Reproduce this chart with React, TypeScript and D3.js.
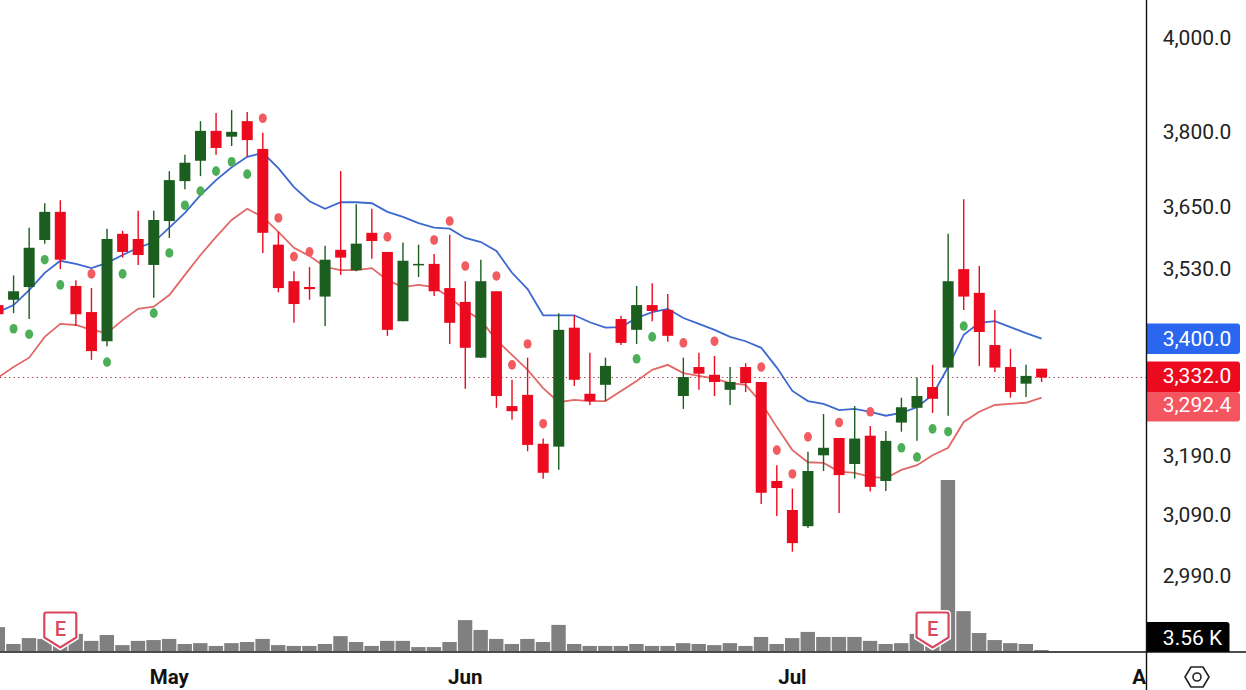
import React, { useRef, useEffect } from "react";
import * as d3 from "d3";

const opens = [3460, 3470, 3494, 3584, 3639, 3496, 3447, 3393, 3596, 3586, 3536, 3621, 3700, 3741, 3802, 3790, 3822, 3765, 3575, 3505, 3494, 3476, 3565, 3526, 3598, 3561, 3430, 3536, 3538, 3492, 3466, 3363, 3486, 3276, 3296, 3210, 3205, 3418, 3298, 3314, 3434, 3414, 3460, 3451, 3294, 3346, 3332, 3305, 3346, 3319, 3146, 3097, 3070, 3190, 3220, 3175, 3224, 3146, 3247, 3273, 3310, 3345, 3528, 3483, 3386, 3346, 3316, 3343];
const highs = [3465, 3516, 3608, 3656, 3662, 3507, 3492, 3606, 3602, 3641, 3641, 3720, 3753, 3822, 3839, 3845, 3841, 3798, 3600, 3524, 3532, 3573, 3720, 3654, 3645, 3561, 3579, 3575, 3557, 3594, 3505, 3546, 3486, 3323, 3363, 3219, 3445, 3441, 3372, 3363, 3440, 3496, 3501, 3481, 3363, 3372, 3366, 3346, 3353, 3319, 3173, 3133, 3196, 3262, 3220, 3276, 3241, 3232, 3291, 3327, 3350, 3596, 3664, 3534, 3451, 3379, 3350, 3343];
const lows = [3436, 3445, 3434, 3577, 3528, 3421, 3359, 3384, 3550, 3536, 3474, 3588, 3684, 3710, 3753, 3771, 3749, 3559, 3484, 3427, 3470, 3421, 3517, 3524, 3548, 3403, 3430, 3513, 3477, 3388, 3307, 3363, 3273, 3252, 3197, 3150, 3165, 3312, 3278, 3285, 3386, 3388, 3430, 3392, 3271, 3305, 3294, 3278, 3301, 3107, 3087, 3028, 3067, 3163, 3092, 3150, 3128, 3129, 3231, 3215, 3264, 3259, 3451, 3348, 3337, 3291, 3292, 3319];
const closes = [3443, 3486, 3569, 3639, 3546, 3443, 3375, 3586, 3561, 3555, 3623, 3702, 3737, 3802, 3767, 3800, 3783, 3598, 3492, 3462, 3490, 3546, 3550, 3577, 3582, 3414, 3544, 3538, 3486, 3427, 3381, 3505, 3294, 3267, 3208, 3160, 3414, 3323, 3285, 3348, 3390, 3460, 3449, 3403, 3328, 3334, 3319, 3319, 3317, 3126, 3134, 3042, 3163, 3203, 3156, 3219, 3136, 3215, 3274, 3294, 3289, 3505, 3476, 3410, 3345, 3301, 3330, 3327];
const upperBand = [3447, 3460, 3488, 3521, 3544, 3538, 3530, 3540, 3555, 3569, 3580, 3608, 3637, 3672, 3702, 3728, 3749, 3757, 3726, 3688, 3660, 3645, 3658, 3658, 3656, 3639, 3629, 3617, 3608, 3606, 3588, 3580, 3563, 3521, 3490, 3441, 3441, 3441, 3428, 3418, 3419, 3436, 3447, 3453, 3436, 3425, 3414, 3401, 3393, 3381, 3345, 3303, 3285, 3280, 3269, 3271, 3266, 3259, 3264, 3274, 3296, 3346, 3405, 3427, 3430, 3419, 3408, 3398];
const lowerBand = [3327, 3346, 3363, 3401, 3425, 3423, 3414, 3408, 3432, 3453, 3457, 3479, 3517, 3555, 3590, 3623, 3645, 3629, 3600, 3569, 3553, 3532, 3526, 3526, 3530, 3507, 3494, 3498, 3494, 3474, 3451, 3432, 3395, 3368, 3341, 3308, 3283, 3287, 3285, 3285, 3303, 3321, 3341, 3350, 3335, 3330, 3325, 3317, 3314, 3282, 3239, 3199, 3178, 3177, 3162, 3160, 3153, 3151, 3165, 3173, 3190, 3203, 3248, 3266, 3278, 3280, 3282, 3291];
const volumes = [85, 25, 46, 43, 21, 61, 36, 57, 21, 36, 39, 43, 25, 28, 18, 28, 32, 43, 21, 18, 18, 25, 53, 32, 18, 36, 36, 14, 14, 32, 110, 75, 43, 25, 43, 32, 93, 25, 18, 18, 18, 25, 18, 18, 28, 25, 21, 28, 18, 50, 25, 46, 68, 50, 50, 50, 36, 25, 28, 61, 21, 609, 142, 64, 39, 28, 25, 3.56];

const buyIndex = [1, 2, 3, 4, 7, 8, 10, 11, 12, 13, 14, 15, 16, 41, 42, 58, 59, 60, 61, 62];
const buyPrice = [3416, 3406, 3546, 3498, 3355, 3519, 3445, 3559, 3652, 3680, 3720, 3739, 3714, 3361, 3401, 3203, 3187, 3236, 3231, 3421];
const sellIndex = [6, 17, 18, 19, 20, 25, 28, 29, 30, 32, 33, 34, 35, 44, 46, 49, 50, 51, 52, 54, 56];
const sellPrice = [3519, 3828, 3627, 3552, 3561, 3590, 3584, 3621, 3534, 3515, 3350, 3388, 3245, 3390, 3393, 3346, 3199, 3158, 3222, 3247, 3266];

const priceTicks = [4000, 3800, 3650, 3530, 3190, 3090, 2990];
const monthLabels = ["May", "Jun", "Jul", "Aug"];
const monthIndex = [11, 30, 51, 74];
const earningsIndex = [4, 60];

const upperLast = "3,400.0";
const closeLast = "3,332.0";
const lowerLast = "3,292.4";
const volumeLast = "3.56 K";

const GREEN = "#1b5e20";
const RED = "#ec0a1f";
const BLUE_LINE = "#3c68cf";
const RED_LINE = "#e26868";
const FONT = "Roboto, sans-serif";

const App: React.FC = () => {
    const svgRef = useRef<SVGSVGElement | null>(null);

    useEffect(() => {
        if (!svgRef.current) return;
        const svg = d3.select(svgRef.current);
        svg.selectAll("*").remove();

        const width = 1246;
        const height = 690;
        const axisX = 1146.5;
        const axisY = 652;

        const x = d3.scaleLinear().domain([0, 67]).range([-2, 1041.6]);
        const y = d3.scaleLog().domain([4000, 2990]).range([37, 575]);
        const v = d3.scaleLinear().domain([0, 609]).range([651, 480]);
        const fmt = d3.format(",.1f");

        const defs = svg.append("defs");
        defs.append("clipPath").attr("id", "plot").append("rect").attr("width", axisX).attr("height", height);
        defs.append("clipPath")
            .attr("id", "side")
            .append("rect")
            .attr("x", axisX)
            .attr("width", width - axisX)
            .attr("height", height);

        const plot = svg.append("g").attr("clip-path", "url(#plot)");

        // volume
        plot.selectAll(".vol")
            .data(volumes)
            .enter()
            .append("rect")
            .attr("x", (d, i) => x(i) - 7.4)
            .attr("y", (d) => v(d))
            .attr("width", 14.4)
            .attr("height", (d) => 651 - v(d))
            .attr("fill", "#808080");

        // last price line
        plot.append("line")
            .attr("x1", 0)
            .attr("x2", axisX)
            .attr("y1", y(closes[67]))
            .attr("y2", y(closes[67]))
            .attr("stroke", "#a02a38")
            .attr("stroke-width", 1.1)
            .attr("stroke-dasharray", "1.2 3.4");

        // bands
        const line = d3
            .line<number>()
            .x((d, i) => x(i))
            .y((d) => y(d));
        plot.append("path").attr("d", line(lowerBand)).attr("fill", "none").attr("stroke", RED_LINE).attr("stroke-width", 1.8);
        plot.append("path").attr("d", line(upperBand)).attr("fill", "none").attr("stroke", BLUE_LINE).attr("stroke-width", 1.8);

        // candles
        const colour = (i: number) => (closes[i] >= opens[i] ? GREEN : RED);
        plot.selectAll(".wick")
            .data(highs)
            .enter()
            .append("line")
            .attr("x1", (d, i) => x(i))
            .attr("x2", (d, i) => x(i))
            .attr("y1", (d) => y(d))
            .attr("y2", (d, i) => y(lows[i]))
            .attr("stroke", (d, i) => colour(i))
            .attr("stroke-width", 1.4);
        plot.selectAll(".body")
            .data(opens)
            .enter()
            .append("rect")
            .attr("x", (d, i) => x(i) - 5.5)
            .attr("y", (d, i) => y(Math.max(d, closes[i])))
            .attr("width", 11)
            .attr("height", (d, i) => Math.max(1.5, Math.abs(y(d) - y(closes[i]))))
            .attr("fill", (d, i) => colour(i));

        // signal dots
        plot.selectAll(".buy")
            .data(buyIndex)
            .enter()
            .append("ellipse")
            .attr("cx", (d) => x(d))
            .attr("cy", (d, i) => y(buyPrice[i]))
            .attr("rx", 4)
            .attr("ry", 4.8)
            .attr("fill", "#4caf58");
        plot.selectAll(".sell")
            .data(sellIndex)
            .enter()
            .append("ellipse")
            .attr("cx", (d) => x(d))
            .attr("cy", (d, i) => y(sellPrice[i]))
            .attr("rx", 4)
            .attr("ry", 4.8)
            .attr("fill", "#f25c60");

        // earnings markers
        const shield = "M-14,0 H14 Q16,0 16,2 V25 L0,35 L-16,25 V2 Q-16,0 -14,0 Z";
        const marker = plot
            .selectAll(".earn")
            .data(earningsIndex)
            .enter()
            .append("g")
            .attr("transform", (d) => `translate(${x(d)},612.5)`);
        marker.append("path").attr("d", shield).attr("fill", "#fff").attr("stroke", "#fff").attr("stroke-width", 5);
        marker.append("path").attr("d", shield).attr("fill", "#fff").attr("stroke", "#d9465e").attr("stroke-width", 2.2);
        marker
            .append("text")
            .attr("y", 23.5)
            .attr("text-anchor", "middle")
            .attr("font-family", FONT)
            .attr("font-size", 20)
            .attr("font-weight", 500)
            .attr("fill", "#d9465e")
            .text("E");

        // month labels
        plot.selectAll(".month")
            .data(monthLabels)
            .enter()
            .append("text")
            .attr("x", (d, i) => x(monthIndex[i]))
            .attr("y", 683.5)
            .attr("text-anchor", "middle")
            .attr("font-family", FONT)
            .attr("font-size", 20.5)
            .attr("font-weight", 700)
            .attr("fill", "#111")
            .text((d) => d);

        // price axis
        svg.selectAll(".tick")
            .data(priceTicks)
            .enter()
            .append("text")
            .attr("x", 1197)
            .attr("y", (d) => y(d) + 7.5)
            .attr("text-anchor", "middle")
            .attr("font-family", FONT)
            .attr("font-size", 21)
            .attr("fill", "#222")
            .text((d) => fmt(d));

        // value tags
        const side = svg.append("g").attr("clip-path", "url(#side)");
        const closeY = y(closes[67]);
        const tags = [
            { label: upperLast, top: y(upperBand[67]) - 15, h: 30.5, w: 93.5, tx: 1197, ty: 22.5, fill: "#2a66f0" },
            { label: lowerLast, top: closeY + 15, h: 29, w: 93.5, tx: 1197, ty: 19.5, fill: "#f5555f" },
            { label: closeLast, top: closeY - 16, h: 31, w: 93.5, tx: 1197, ty: 21.5, fill: RED },
            { label: volumeLast, top: axisY - 30, h: 40, w: 83, tx: 1192.5, ty: 22.5, fill: "#000" },
        ];
        const tag = side.selectAll(".tag").data(tags).enter().append("g");
        tag.append("rect")
            .attr("x", axisX - 8)
            .attr("y", (d) => d.top)
            .attr("width", (d) => d.w + 8)
            .attr("height", (d) => d.h)
            .attr("rx", 3)
            .attr("fill", (d) => d.fill);
        tag.append("text")
            .attr("x", (d) => d.tx)
            .attr("y", (d) => d.top + d.ty)
            .attr("text-anchor", "middle")
            .attr("font-family", FONT)
            .attr("font-size", 21)
            .attr("fill", "#fff")
            .text((d) => d.label);
        side.append("rect").attr("x", axisX).attr("y", axisY).attr("width", 100).attr("height", 38).attr("fill", "#fff");

        // frame
        svg.append("line").attr("x1", 0).attr("x2", width).attr("y1", axisY).attr("y2", axisY).attr("stroke", "#111").attr("stroke-width", 1.4);
        svg.append("line").attr("x1", axisX).attr("x2", axisX).attr("y1", 0).attr("y2", height).attr("stroke", "#111").attr("stroke-width", 1.4);

        // settings icon
        const icon = svg.append("g").attr("transform", "translate(1197,677)").attr("fill", "none").attr("stroke", "#222").attr("stroke-width", 1.6);
        icon.append("path").attr("d", "M-12,0 L-6,-10 H6 L12,0 L6,10 H-6 Z").attr("stroke-linejoin", "round");
        icon.append("circle").attr("r", 4);
    }, []);

    return <svg ref={svgRef} width={1246} height={690} style={{ position: "fixed", left: 0, top: 0, background: "#fff" }}></svg>;
};

export default App;
